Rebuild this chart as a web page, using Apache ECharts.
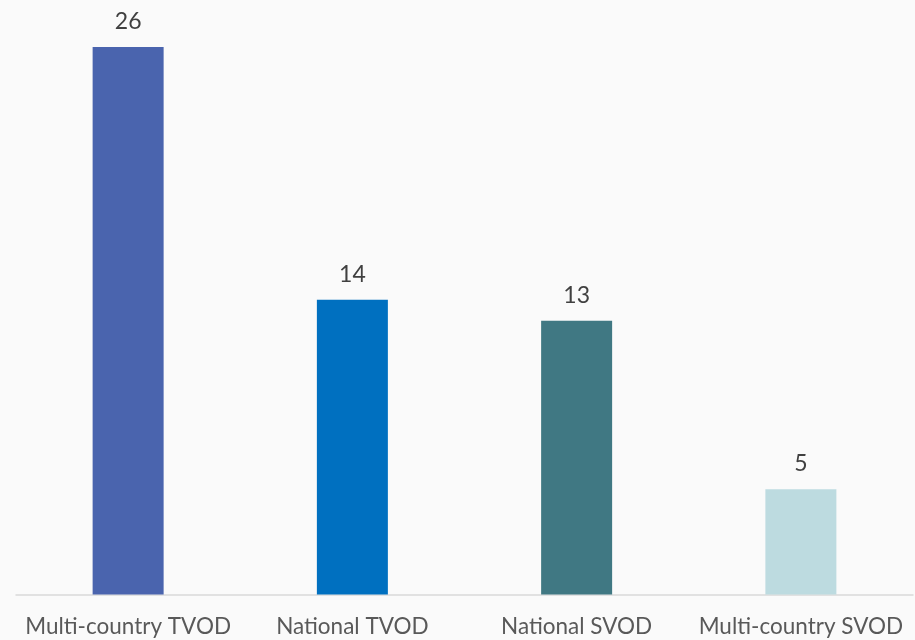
<!DOCTYPE html>
<html><head><meta charset="utf-8">
<script src="https://cdn.jsdelivr.net/npm/echarts@6/dist/echarts.min.js"></script>
<style>html,body{margin:0;padding:0;background:#fafafa;}#c{width:915px;height:640px;}</style>
</head><body><div id="c"></div>
<script>
const categories = ["Multi-country TVOD", "National TVOD", "National SVOD", "Multi-country SVOD"];
const values = [26, 14, 13, 5];
const colors = ["#4a64ae", "#0070c0", "#407883", "#bddbe0"];

const chart = echarts.init(document.getElementById('c'));
chart.setOption({
  backgroundColor: '#fafafa',
  animation: false,
  grid: { left: 16, right: 2, top: 47, bottom: 45.5 },
  xAxis: {
    type: 'category',
    data: categories,
    axisLine: { lineStyle: { color: '#d9d9d9', width: 1.5 } },
    axisTick: { show: false },
    axisLabel: { color: '#595959', fontSize: 22.5, fontFamily: 'Lato', margin: 21, interval: 0 }
  },
  yAxis: { type: 'value', min: 0, max: 26, show: false, splitLine: { show: false } },
  series: [{
    type: 'bar',
    barWidth: 71,
    data: values.map((v, i) => ({ value: v, itemStyle: { color: colors[i] } })),
    label: { show: true, position: 'top', distance: 14, color: '#404040', fontSize: 23, fontFamily: 'Lato' }
  }]
});
</script></body></html>
